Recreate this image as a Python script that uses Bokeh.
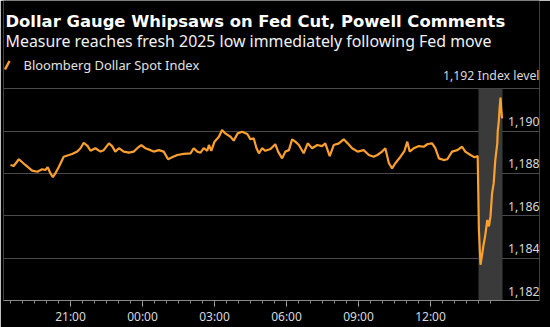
import pandas as pd
from bokeh.plotting import figure
from bokeh.models import (ColumnDataSource, FixedTicker, DatetimeTickFormatter, Label,
                          LabelSet, BoxAnnotation, Arrow)
from bokeh.core.properties import value
from bokeh.embed import file_html
from bokeh.resources import INLINE

# ---------------- data ----------------
times = [
    "2025-09-16 18:30", "2025-09-16 18:38", "2025-09-16 18:51", "2025-09-16 19:07", "2025-09-16 19:24",
    "2025-09-16 19:37", "2025-09-16 19:49", "2025-09-16 19:57", "2025-09-16 20:03", "2025-09-16 20:10",
    "2025-09-16 20:16", "2025-09-16 20:22", "2025-09-16 20:31", "2025-09-16 20:43", "2025-09-16 20:56",
    "2025-09-16 21:04", "2025-09-16 21:17", "2025-09-16 21:25", "2025-09-16 21:33", "2025-09-16 21:43",
    "2025-09-16 21:50", "2025-09-16 22:02", "2025-09-16 22:15", "2025-09-16 22:23", "2025-09-16 22:36",
    "2025-09-16 22:44", "2025-09-16 22:52", "2025-09-16 23:01", "2025-09-16 23:13", "2025-09-16 23:26",
    "2025-09-16 23:38", "2025-09-16 23:47", "2025-09-16 23:57", "2025-09-17 00:07", "2025-09-17 00:20",
    "2025-09-17 00:28", "2025-09-17 00:41", "2025-09-17 00:53", "2025-09-17 01:04", "2025-09-17 01:14",
    "2025-09-17 01:27", "2025-09-17 01:43", "2025-09-17 02:00", "2025-09-17 02:08", "2025-09-17 02:17",
    "2025-09-17 02:25", "2025-09-17 02:33", "2025-09-17 02:42", "2025-09-17 02:46", "2025-09-17 02:52",
    "2025-09-17 03:00", "2025-09-17 03:11", "2025-09-17 03:19", "2025-09-17 03:27", "2025-09-17 03:40",
    "2025-09-17 03:48", "2025-09-17 03:58", "2025-09-17 04:09", "2025-09-17 04:22", "2025-09-17 04:30",
    "2025-09-17 04:38", "2025-09-17 04:45", "2025-09-17 04:51", "2025-09-17 04:59", "2025-09-17 05:07",
    "2025-09-17 05:20", "2025-09-17 05:32", "2025-09-17 05:39", "2025-09-17 05:49", "2025-09-17 05:57",
    "2025-09-17 06:06", "2025-09-17 06:14", "2025-09-17 06:22", "2025-09-17 06:31", "2025-09-17 06:43",
    "2025-09-17 06:53", "2025-09-17 07:04", "2025-09-17 07:17", "2025-09-17 07:29", "2025-09-17 07:37",
    "2025-09-17 07:48", "2025-09-17 07:58", "2025-09-17 08:11", "2025-09-17 08:23", "2025-09-17 08:33",
    "2025-09-17 08:44", "2025-09-17 08:58", "2025-09-17 09:13", "2025-09-17 09:26", "2025-09-17 09:38",
    "2025-09-17 09:47", "2025-09-17 09:59", "2025-09-17 10:07", "2025-09-17 10:16", "2025-09-17 10:24",
    "2025-09-17 10:32", "2025-09-17 10:45", "2025-09-17 10:55", "2025-09-17 11:02", "2025-09-17 11:08",
    "2025-09-17 11:18", "2025-09-17 11:31", "2025-09-17 11:43", "2025-09-17 11:53", "2025-09-17 12:04",
    "2025-09-17 12:12", "2025-09-17 12:21", "2025-09-17 12:33", "2025-09-17 12:42", "2025-09-17 12:54",
    "2025-09-17 13:07", "2025-09-17 13:19", "2025-09-17 13:27", "2025-09-17 13:40", "2025-09-17 13:50",
    "2025-09-17 13:58", "2025-09-17 14:01", "2025-09-17 14:05", "2025-09-17 14:09", "2025-09-17 14:12",
    "2025-09-17 14:15", "2025-09-17 14:17", "2025-09-17 14:22", "2025-09-17 14:26", "2025-09-17 14:30",
    "2025-09-17 14:34", "2025-09-17 14:38", "2025-09-17 14:42", "2025-09-17 14:47", "2025-09-17 14:48",
    "2025-09-17 14:51", "2025-09-17 14:53", "2025-09-17 14:55", "2025-09-17 14:57", "2025-09-17 14:59",
]
index_level = [
    1188.40, 1188.35, 1188.67, 1188.40, 1188.13,
    1188.08, 1188.20, 1188.16, 1188.29, 1188.00,
    1187.82, 1188.00, 1188.32, 1188.79, 1188.87,
    1188.92, 1189.03, 1189.19, 1189.45, 1189.29,
    1189.07, 1189.19, 1189.03, 1189.10, 1189.42,
    1189.29, 1189.03, 1189.19, 1189.03, 1188.98,
    1189.03, 1189.19, 1189.34, 1189.19, 1189.10,
    1189.03, 1189.10, 1189.03, 1188.67, 1188.76,
    1188.87, 1188.92, 1188.95, 1189.19, 1189.03,
    1188.98, 1189.19, 1189.07, 1189.34, 1189.07,
    1189.50, 1189.73, 1190.05, 1189.89, 1189.73,
    1189.55, 1189.89, 1189.97, 1189.86, 1189.61,
    1189.66, 1189.19, 1188.95, 1189.19, 1189.07,
    1189.15, 1189.38, 1189.03, 1188.71, 1189.03,
    1189.10, 1189.61, 1189.50, 1189.34, 1188.95,
    1189.42, 1189.19, 1189.34, 1189.29, 1189.42,
    1188.82, 1189.34, 1189.42, 1189.61, 1189.42,
    1189.19, 1189.03, 1189.10, 1188.87, 1188.79,
    1188.87, 1189.03, 1189.19, 1188.48, 1188.24,
    1188.48, 1188.79, 1189.07, 1189.50, 1189.03,
    1189.19, 1189.29, 1189.26, 1189.39, 1189.42,
    1189.19, 1188.71, 1188.63, 1188.67, 1189.03,
    1189.10, 1189.26, 1189.03, 1188.87, 1188.76,
    1188.82, 1185.34, 1183.69, 1184.16, 1184.56,
    1184.87, 1185.10, 1185.80, 1185.50, 1185.97,
    1187.07, 1187.54, 1188.64, 1189.42, 1189.97,
    1190.52, 1191.14, 1191.58, 1190.99, 1190.60,
]
y_ticks = [1182, 1184, 1186, 1188, 1190, 1192]
y_tick_labels = ["1,182", "1,184", "1,186", "1,188", "1,190", "1,192 Index level"]
x_major = ["2025-09-16 21:00", "2025-09-17 00:00", "2025-09-17 03:00",
           "2025-09-17 06:00", "2025-09-17 09:00", "2025-09-17 12:00"]
fed_window = ["2025-09-17 14:00", "2025-09-17 15:00"]
day_labels = ["Sept. 16", "Sept. 17"]
day_label_pos = ["2025-09-16 21:12", "2025-09-17 06:27"]
title_text = "Dollar Gauge Whipsaws on Fed Cut, Powell Comments"
subtitle_text = "Measure reaches fresh 2025 low immediately following Fed move"
legend_text = "Bloomberg Dollar Spot Index"

# ---------------- helpers ----------------
def ms(s):
    return pd.Timestamp(s).value / 1e6

x_vals = [ms(t) for t in times]
x_start = ms("2025-09-16 18:12:30")
x_end = ms("2025-09-17 16:32:30")
minor = [ms(t) for t in pd.date_range("2025-09-16 18:30", "2025-09-17 14:30", freq="30min")]

ORANGE = "#fb9f2e"
FONT = "Noto Sans"
Y_TOP = 1196.165   # headroom above the top gridline for the headings

p = figure(width=550, height=327, output_backend="svg", toolbar_location=None,
           x_axis_type="datetime", y_axis_location=None,
           x_range=(x_start, x_end), y_range=(1182, Y_TOP),
           min_border_left=3, min_border_right=11, min_border_top=0, min_border_bottom=26)
p.title.visible = False
p.background_fill_color = "black"
p.border_fill_color = "black"
p.outline_line_color = None

p.xgrid.visible = False
p.ygrid.ticker = FixedTicker(ticks=y_ticks)
p.ygrid.grid_line_color = "#4a4a4a"
p.ygrid.grid_line_width = 1

ax = p.xaxis[0]
ax.ticker = FixedTicker(ticks=[ms(t) for t in x_major], minor_ticks=minor)
ax.formatter = DatetimeTickFormatter(hours="%H:%M", hourmin="%H:%M", minutes="%H:%M",
                                     minsec="%H:%M", days="%H:%M", months="%H:%M", years="%H:%M")
ax.axis_line_color = "#8a8a8a"
ax.major_tick_line_color = "#b0b0b0"
ax.minor_tick_line_color = "#8a8a8a"
ax.major_tick_in = 0
ax.major_tick_out = 6
ax.minor_tick_in = 0
ax.minor_tick_out = 3
ax.major_label_text_color = "#d8d8d8"
ax.major_label_text_font = FONT
ax.major_label_text_font_size = "12px"
ax.major_label_standoff = 1

# Fed window shading
p.add_layout(BoxAnnotation(left=ms(fed_window[0]), right=ms(fed_window[1]), top=y_ticks[-1],
                           fill_color="#3a3a3a", fill_alpha=1.0, line_color=None, level="underlay"))

src = ColumnDataSource(dict(x=x_vals, y=index_level))
p.line("x", "y", source=src, line_color=ORANGE, line_width=2.2)

# y tick labels (inside, right side, above gridlines)
ysrc = ColumnDataSource(dict(y=y_ticks, text=y_tick_labels))
p.add_layout(LabelSet(x=536, y="y", text="text", source=ysrc, x_units="screen",
                      text_align="right", text_baseline="bottom", y_offset=5,
                      text_color="#d8d8d8", text_font=value(FONT), text_font_size="12.3px"))

# day labels (second row, mostly cropped)
for lab, pos in zip(day_labels, day_label_pos):
    p.add_layout(Label(x=ms(pos), y=-24, y_units="screen", text=lab, text_align="center",
                       text_baseline="top", text_color="#d8d8d8", text_font=FONT,
                       text_font_size="12px"))

# titles
p.add_layout(Label(x=2, y=279, x_units="screen", y_units="screen", text=title_text,
                   text_baseline="alphabetic", text_color="white", text_font="DejaVu Sans",
                   text_font_style="bold", text_font_size="16.4px"))
p.add_layout(Label(x=2, y=259.5, x_units="screen", y_units="screen", text=subtitle_text,
                   text_baseline="alphabetic", text_color="#f0f0f0", text_font="Noto Sans",
                   text_font_size="15.9px"))
p.add_layout(Label(x=20, y=235.5, x_units="screen", y_units="screen", text=legend_text,
                   text_baseline="middle", text_color="#e0e0e0", text_font=FONT,
                   text_font_size="12.9px"))
p.add_layout(Arrow(x_start=1.5, y_start=231, x_end=6, y_end=239.5, start_units="screen",
                   end_units="screen", start=None, end=None, line_color=ORANGE, line_width=2.5))

open("out.html", "w").write(file_html(p, INLINE))
